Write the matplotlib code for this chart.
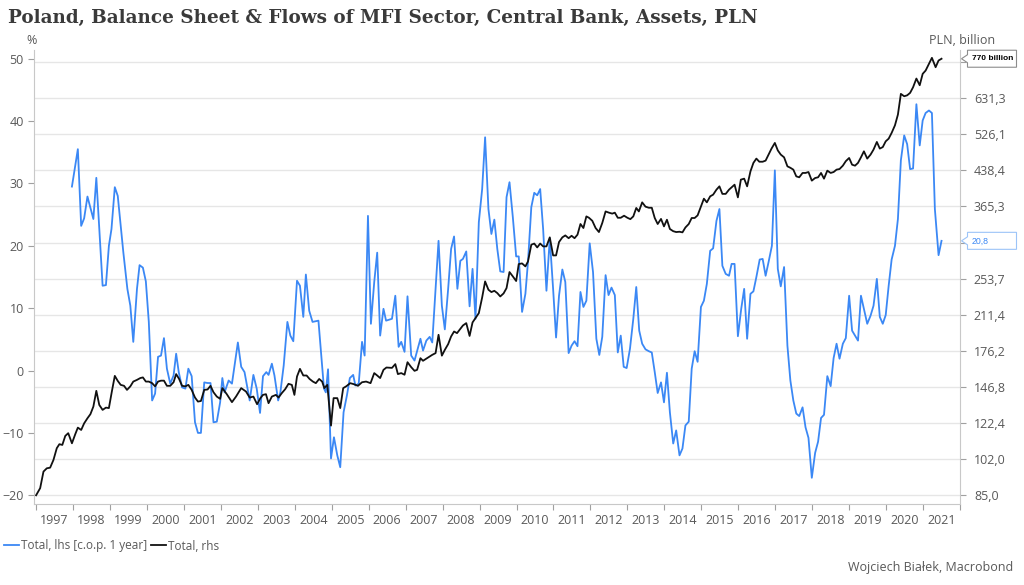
import matplotlib
matplotlib.use("Agg")
import math
import matplotlib.pyplot as plt
from matplotlib.ticker import FixedLocator, FixedFormatter, NullLocator
from matplotlib.patches import Polygon
from matplotlib.transforms import IdentityTransform, blended_transform_factory

plt.rcParams['font.family'] = ['Open Sans', 'DejaVu Sans']

title = "Poland, Balance Sheet & Flows of MFI Sector, Central Bank, Assets, PLN"
blue_label = "Total, lhs [c.o.p. 1 year]"
black_label = "Total, rhs"
source_text = "Wojciech Białek, Macrobond"
left_unit = "%"
right_unit = "PLN, billion"

years = list(range(1997, 2022))
left_ticks = [-20, -10, 0, 10, 20, 30, 40, 50]
right_ticks = [85.0, 102.0, 122.4, 146.8, 176.2, 211.4, 253.7, 304.4, 365.3, 438.4, 526.1, 631.3, 757.6]
right_labels = ["85,0", "102,0", "122,4", "146,8", "176,2", "211,4", "253,7", "", "365,3", "438,4", "526,1", "631,3", ""]

# Total, lhs [c.o.p. 1 year]  (%)
blue_t = [1997.97,
          1998.13, 1998.22, 1998.30, 1998.39, 1998.55, 1998.63, 1998.80, 1998.89, 1998.97,
          1999.04, 1999.13, 1999.21, 1999.36, 1999.47, 1999.55, 1999.63, 1999.73, 1999.80, 1999.89, 1999.97,
          2000.05, 2000.14, 2000.22, 2000.30, 2000.38, 2000.46, 2000.54, 2000.63, 2000.72, 2000.79, 2000.86, 2000.95,
          2001.04, 2001.12, 2001.21, 2001.30, 2001.38, 2001.46, 2001.55, 2001.64, 2001.72, 2001.80, 2001.89, 2001.98,
          2002.04, 2002.10, 2002.21, 2002.30, 2002.46, 2002.55, 2002.64, 2002.78, 2002.88, 2002.97,
          2003.06, 2003.14, 2003.23, 2003.29, 2003.38, 2003.45, 2003.55, 2003.61, 2003.70, 2003.80, 2003.88, 2003.96,
          2004.06, 2004.14, 2004.23, 2004.30, 2004.39, 2004.48, 2004.64, 2004.79, 2004.84, 2004.90, 2004.98,
          2005.06, 2005.15, 2005.23, 2005.32, 2005.41, 2005.49, 2005.58, 2005.64, 2005.73, 2005.82, 2005.89, 2005.98,
          2006.06, 2006.15, 2006.23, 2006.31, 2006.40, 2006.47, 2006.63, 2006.72, 2006.81, 2006.88, 2006.97,
          2007.05, 2007.15, 2007.24, 2007.40, 2007.47, 2007.56, 2007.65, 2007.72, 2007.81, 2007.89, 2007.98,
          2008.06, 2008.15, 2008.23, 2008.31, 2008.40, 2008.48, 2008.55, 2008.64, 2008.73, 2008.81, 2008.89, 2008.98,
          2009.07, 2009.15, 2009.24, 2009.32, 2009.40, 2009.48, 2009.56, 2009.65, 2009.73, 2009.81, 2009.90, 2009.99,
          2010.06, 2010.15, 2010.24, 2010.31, 2010.40, 2010.48, 2010.56, 2010.64, 2010.72, 2010.81, 2010.90, 2010.99,
          2011.07, 2011.15, 2011.24, 2011.32, 2011.41, 2011.49, 2011.57, 2011.65, 2011.73, 2011.81, 2011.89, 2011.98,
          2012.07, 2012.16, 2012.24, 2012.32, 2012.41, 2012.49, 2012.57, 2012.66, 2012.74, 2012.82, 2012.90, 2012.98,
          2013.07, 2013.16, 2013.24, 2013.32, 2013.40, 2013.49, 2013.58, 2013.66, 2013.74, 2013.82, 2013.91, 2013.99,
          2014.07, 2014.15, 2014.24, 2014.32, 2014.41, 2014.49, 2014.57, 2014.66, 2014.74, 2014.82, 2014.90, 2014.99,
          2015.07, 2015.15, 2015.24, 2015.32, 2015.41, 2015.49, 2015.57, 2015.66, 2015.75, 2015.82, 2015.90, 2015.99,
          2016.08, 2016.16, 2016.24, 2016.33, 2016.41, 2016.49, 2016.58, 2016.66, 2016.74, 2016.82, 2016.91, 2016.99,
          2017.07, 2017.15, 2017.24, 2017.33, 2017.41, 2017.49, 2017.57, 2017.65, 2017.74, 2017.82, 2017.90, 2017.99,
          2018.08, 2018.16, 2018.24, 2018.32, 2018.41, 2018.50, 2018.58, 2018.66, 2018.74, 2018.83, 2018.91,
          2019.00, 2019.08, 2019.16, 2019.24, 2019.32, 2019.40, 2019.49, 2019.58, 2019.66, 2019.75, 2019.83, 2019.91, 2019.99,
          2020.07, 2020.15, 2020.24, 2020.32, 2020.40, 2020.49, 2020.57, 2020.65, 2020.73, 2020.82, 2020.91, 2020.99,
          2021.07, 2021.16, 2021.24, 2021.32, 2021.42, 2021.50]
blue_v = [29.5,
          35.5, 23.2, 24.4, 27.9, 24.3, 30.9, 13.6, 13.7, 20.0,
          22.7, 29.4, 28.0, 19.0, 13.1, 10.4, 4.6, 13.1, 16.9, 16.5, 14.3,
          7.8, -4.8, -3.7, 2.2, 2.4, 5.2, 0.3, -2.1, -0.8, 2.7, -0.25, -2.7,
          -2.9, 0.3, -0.9, -8.3, -10.0, -10.0, -1.9, -2.0, -2.0, -8.3, -8.2, -5.1,
          -1.2, -3.5, -1.6, -2.1, 4.5, 0.6, -0.25, -4.8, -0.7, -2.9,
          -6.8, -0.9, -0.25, -0.7, 1.1, -0.8, -4.8, -3.5, 0.8, 7.8, 5.6, 4.7,
          14.4, 13.6, 8.6, 15.4, 9.6, 7.8, 8.0, -2.9, -3.5, 0.2, -14.1,
          -10.7, -13.6, -15.5, -6.7, -4.0, -1.2, -0.7, -2.4, -2.1, 4.6, 2.4, 24.8,
          7.5, 14.2, 18.9, 5.6, 9.9, 8.0, 8.3, 12.0, 3.8, 4.6, 3.0,
          11.9, 2.4, 1.6, 5.1, 3.2, 4.8, 5.4, 4.5, 13.1, 20.8, 10.4,
          6.6, 13.1, 19.5, 21.5, 13.1, 17.6, 17.9, 19.1, 10.3, 16.3, 8.3, 23.8,
          29.1, 37.4, 25.9, 21.9, 24.2, 19.5, 15.9, 15.8, 27.8, 30.2, 24.6, 18.3,
          18.3, 9.4, 12.3, 17.4, 26.2, 28.5, 28.1, 29.1, 22.7, 12.8, 21.2, 13.1,
          5.3, 12.0, 16.2, 14.2, 2.8, 4.0, 4.7, 3.9, 12.6, 10.2, 11.2, 20.4,
          15.8, 5.1, 2.5, 5.4, 15.3, 12.1, 13.3, 12.1, 2.9, 5.6, 0.6, 0.4,
          3.5, 8.3, 13.4, 6.4, 4.3, 3.4, 3.1, 2.9, -0.25, -3.6, -1.9, -5.1,
          -0.35, -6.7, -11.7, -9.6, -13.6, -12.5, -8.8, -8.2, 0.3, 3.1, 1.4, 10.2,
          11.2, 13.9, 19.2, 19.6, 24.0, 25.9, 16.8, 15.5, 15.2, 17.1, 17.1, 5.5,
          9.9, 13.1, 5.1, 12.3, 12.7, 15.0, 17.8, 17.9, 15.2, 17.4, 20.0, 32.1,
          16.3, 13.5, 16.6, 4.0, -1.6, -4.8, -6.9, -7.3, -5.9, -9.1, -10.8, -17.2,
          -13.2, -11.4, -7.6, -7.1, -0.9, -2.5, 2.0, 4.3, 1.9, 4.3, 5.2,
          12.0, 6.4, 5.6, 4.8, 12.0, 9.9, 7.5, 8.8, 10.4, 14.7, 8.6, 7.5, 8.9,
          13.6, 17.8, 20.0, 24.3, 33.7, 37.7, 36.3, 32.3, 32.4, 42.7, 36.1, 40.1,
          41.3, 41.7, 41.3, 25.9, 18.5, 20.8]

# Total, rhs  (PLN billion)
black_t = [1997.00, 1997.11, 1997.20, 1997.29, 1997.38, 1997.47, 1997.56, 1997.63, 1997.71, 1997.79, 1997.87, 1997.97,
           1998.06, 1998.13, 1998.22, 1998.30, 1998.39, 1998.47, 1998.55, 1998.63, 1998.71, 1998.80, 1998.89, 1998.97,
           1999.05, 1999.13, 1999.21, 1999.29, 1999.38, 1999.46, 1999.55, 1999.63, 1999.73, 1999.82, 1999.89, 1999.97,
           2000.05, 2000.14, 2000.22, 2000.30, 2000.38, 2000.46, 2000.54, 2000.63, 2000.72, 2000.79, 2000.87, 2000.95,
           2001.04, 2001.12, 2001.21, 2001.30, 2001.38, 2001.46, 2001.55, 2001.64, 2001.72, 2001.80, 2001.89, 2001.98,
           2002.04, 2002.16, 2002.30, 2002.41, 2002.55, 2002.68, 2002.78, 2002.88, 2002.98,
           2003.07, 2003.14, 2003.22, 2003.29, 2003.38, 2003.49, 2003.56, 2003.65, 2003.74, 2003.83, 2003.92, 2003.99,
           2004.06, 2004.14, 2004.23, 2004.32, 2004.40, 2004.49, 2004.57, 2004.66, 2004.74, 2004.80, 2004.88, 2004.98,
           2005.05, 2005.15, 2005.23, 2005.31, 2005.39, 2005.50, 2005.59, 2005.71, 2005.82, 2005.93,
           2006.05, 2006.15, 2006.23, 2006.31, 2006.40, 2006.48, 2006.63, 2006.72, 2006.79, 2006.88, 2006.97,
           2007.05, 2007.15, 2007.24, 2007.31, 2007.40, 2007.47, 2007.58, 2007.72, 2007.81, 2007.89, 2007.98,
           2008.06, 2008.15, 2008.23, 2008.31, 2008.39, 2008.48, 2008.55, 2008.64, 2008.73, 2008.81, 2008.89, 2008.98,
           2009.07, 2009.15, 2009.24, 2009.32, 2009.40, 2009.48, 2009.56, 2009.65, 2009.73, 2009.81, 2009.90, 2009.99,
           2010.06, 2010.15, 2010.24, 2010.31, 2010.40, 2010.48, 2010.56, 2010.64, 2010.72, 2010.81, 2010.90, 2010.99,
           2011.07, 2011.15, 2011.24, 2011.32, 2011.41, 2011.49, 2011.57, 2011.65, 2011.73, 2011.81, 2011.89, 2011.96,
           2012.05, 2012.14, 2012.23, 2012.32, 2012.41, 2012.50, 2012.59, 2012.66, 2012.74, 2012.82, 2012.91,
           2013.00, 2013.08, 2013.16, 2013.24, 2013.31, 2013.40, 2013.49, 2013.58, 2013.66, 2013.74, 2013.82, 2013.91, 2013.99,
           2014.07, 2014.15, 2014.24, 2014.32, 2014.41, 2014.49, 2014.57, 2014.66, 2014.74, 2014.82, 2014.90, 2014.99,
           2015.07, 2015.15, 2015.24, 2015.32, 2015.41, 2015.49, 2015.57, 2015.66, 2015.75, 2015.82, 2015.90, 2015.99,
           2016.07, 2016.16, 2016.24, 2016.33, 2016.41, 2016.49, 2016.57, 2016.66, 2016.74, 2016.82, 2016.90, 2016.99,
           2017.07, 2017.15, 2017.24, 2017.33, 2017.41, 2017.49, 2017.57, 2017.65, 2017.74, 2017.82, 2017.90, 2017.99,
           2018.08, 2018.16, 2018.24, 2018.32, 2018.41, 2018.50, 2018.58, 2018.66, 2018.74, 2018.83, 2018.91,
           2019.00, 2019.08, 2019.16, 2019.24, 2019.32, 2019.40, 2019.49, 2019.58, 2019.66, 2019.75, 2019.83, 2019.91, 2019.99,
           2020.07, 2020.15, 2020.24, 2020.32, 2020.40, 2020.49, 2020.57, 2020.65, 2020.73, 2020.82, 2020.91, 2020.99,
           2021.07, 2021.16, 2021.24, 2021.34, 2021.42, 2021.50]
black_v = [85.0, 88.1, 95.8, 97.4, 97.7, 101.6, 107.8, 110.0, 109.6, 114.7, 116.3, 110.5,
           115.7, 119.6, 118.2, 122.2, 125.4, 128.0, 133.0, 144.0, 134.1, 130.8, 132.3, 132.0,
           143.5, 155.3, 151.4, 148.4, 147.7, 144.7, 147.3, 150.9, 152.2, 153.6, 154.1, 150.9,
           150.9, 149.7, 147.3, 150.9, 151.6, 151.6, 147.7, 147.7, 150.4, 156.7, 152.9, 147.7,
           147.3, 148.4, 144.7, 139.2, 136.4, 136.8, 144.7, 145.0, 147.7, 143.0, 139.9, 138.3,
           146.0, 141.6, 136.0, 139.9, 146.0, 143.5, 139.2, 139.9, 134.6,
           138.8, 141.1, 141.6, 135.3, 139.9, 141.1, 139.2, 142.4, 145.2, 149.2, 148.4, 141.1,
           154.8, 160.9, 155.6, 155.6, 152.9, 150.9, 149.7, 152.9, 150.9, 146.0, 148.4, 120.8,
           138.8, 138.8, 132.0, 146.0, 147.3, 149.7, 149.0, 147.7, 150.4, 150.9,
           149.7, 157.5, 155.6, 153.6, 160.1, 162.0, 161.7, 164.8, 156.7, 157.5, 156.2,
           166.4, 162.3, 159.3, 160.1, 169.8, 167.6, 169.8, 172.7, 174.2, 191.1, 172.0,
           177.1, 182.3, 189.5, 194.3, 192.7, 197.0, 200.3, 202.7, 190.0, 203.4, 207.9, 213.2,
           230.7, 250.2, 239.9, 237.1, 238.6, 235.9, 231.9, 235.5, 241.9, 262.3, 256.6, 250.7,
           273.1, 274.0, 269.9, 276.7, 301.1, 302.9, 297.0, 302.9, 298.6, 298.6, 312.5, 285.3,
           285.3, 305.2, 312.5, 315.6, 311.2, 315.0, 311.2, 316.8, 334.3, 327.6, 347.4, 345.0,
           339.8, 327.6, 321.0, 336.0, 356.2, 354.0, 352.3, 354.0, 345.0, 345.0, 348.6,
           345.0, 342.6, 347.4, 362.5, 356.2, 372.9, 364.9, 362.9, 362.9, 344.6, 334.3, 343.0, 330.3,
           341.6, 326.0, 322.4, 321.0, 321.5, 320.5, 328.5, 334.3, 344.6, 344.6, 349.2, 364.9,
           379.9, 372.9, 384.4, 387.7, 397.6, 404.3, 389.2, 389.2, 397.6, 402.2, 407.7, 382.4,
           418.2, 420.3, 404.3, 436.1, 455.1, 465.1, 457.8, 457.8, 460.4, 474.6, 489.2, 503.4,
           484.7, 474.6, 468.1, 447.3, 444.0, 439.9, 425.2, 423.2, 432.6, 432.6, 434.6, 416.1,
           421.7, 423.2, 432.6, 420.3, 437.7, 432.6, 434.6, 439.9, 441.2, 448.8, 459.1,
           466.6, 451.0, 448.8, 455.1, 468.1, 482.5, 465.1, 474.6, 486.7, 505.9, 489.2, 492.9, 507.5,
           514.4, 529.5, 550.2, 580.8, 644.8, 637.1, 640.1, 648.1, 666.7, 696.7, 673.5, 713.4,
           725.4, 750.4, 773.5, 737.7, 763.1, 770.0]

BLUE = "#3b88f5"
BLACK = "#111111"
TXT = "#595959"
SPINE = "#c8c8c8"
GRID = "#e6e6e6"

W, H = 1024, 585
fig = plt.figure(figsize=(W / 100, H / 100), dpi=100)
ax = fig.add_axes([33.5 / W, 1 - 504 / H, (960 - 33.5) / W, (504 - 50) / H])
ax2 = ax.twinx()

# left axis range and the matching log range on the right
ylim_left = (-21.4, 51.4)
steps = math.log(770.0 / 85.0) / math.log(1.2)
ylim_right = tuple(85.0 * 1.2 ** ((v + 20) / 70.0 * steps) for v in ylim_left)

ax.set_xlim(1996.93, 2022.0)
ax.set_ylim(*ylim_left)
ax2.set_yscale("log")
ax2.set_ylim(*ylim_right)

# gridlines at the right-axis ticks, drawn beneath the lines
gtrans = blended_transform_factory(ax.transAxes, ax2.transData)
for v in right_ticks:
    ax.plot([0, 1], [v, v], transform=gtrans, color=GRID, lw=1.0, zorder=0.5, scalex=False, scaley=False)

l1, = ax.plot(blue_t, blue_v, color=BLUE, lw=1.3, zorder=3, label=blue_label)
l2, = ax2.plot(black_t, black_v, color=BLACK, lw=1.3, zorder=3, label=black_label)

ax.set_xlim(1996.93, 2022.0)
ax.set_ylim(*ylim_left)
ax2.set_ylim(*ylim_right)

# spines
for a in (ax, ax2):
    a.spines["top"].set_visible(False)
ax.spines["right"].set_visible(False)
ax2.spines["left"].set_visible(False)
ax2.spines["bottom"].set_visible(False)
ax.spines["left"].set_color(SPINE)
ax.spines["bottom"].set_color(SPINE)
ax2.spines["right"].set_color(SPINE)

# x axis: year boundaries as ticks, labels centred in each year
ax.xaxis.set_major_locator(FixedLocator(list(range(1997, 2023))))
ax.xaxis.set_major_formatter(FixedFormatter([""] * 26))
ax.xaxis.set_minor_locator(FixedLocator([y + 0.5 for y in years]))
ax.xaxis.set_minor_formatter(FixedFormatter([str(y) for y in years]))
ax.tick_params(axis="x", which="major", length=4, width=0.8, color="#a0a0a0", direction="out")
ax.tick_params(axis="x", which="minor", length=0, pad=7, labelsize=9, labelcolor=TXT)

# left axis
ax.yaxis.set_major_locator(FixedLocator(left_ticks))
ax.yaxis.set_minor_locator(NullLocator())
ax.tick_params(axis="y", which="major", length=4, width=0.8, color="#a0a0a0", pad=3, labelsize=9, labelcolor=TXT)

# right axis
ax2.yaxis.set_major_locator(FixedLocator(right_ticks))
ax2.yaxis.set_major_formatter(FixedFormatter(right_labels))
ax2.yaxis.set_minor_locator(NullLocator())
ax2.tick_params(axis="y", which="major", length=4, width=0.8, color="#a0a0a0", pad=6, labelsize=9, labelcolor=TXT)

# texts
fig.text(8 / W, 1 - 18 / H, title, fontfamily="DejaVu Serif", fontweight="bold", fontsize=13.2,
         color="#3a3a3a", ha="left", va="center")
fig.text(32 / W, 1 - 40 / H, left_unit, fontsize=9, color=TXT, ha="center", va="center")
fig.text(962 / W, 1 - 40 / H, right_unit, fontsize=9, color=TXT, ha="center", va="center")
fig.text(1013 / W, 1 - 568 / H, source_text, fontsize=9, color=TXT, ha="right", va="center")

fig.legend(handles=[l1, l2], labels=[blue_label, black_label], loc="center left",
           bbox_to_anchor=(4 / W, 1 - 546 / H), ncol=2, frameon=False, fontsize=8.5,
           handlelength=1.3, handletextpad=0.15, columnspacing=0.3, borderaxespad=0,
           borderpad=0, labelcolor=TXT)


def callout(trans, val, text, tcolor, ecolor, weight, fsize):
    yd = trans.transform((0, val))[1]
    xr = ax.transAxes.transform((1, 0))[0]
    x0 = xr + 7.5
    x1 = x0 + 49
    h = 8.5
    pts = [(x0, yd + h), (x1, yd + h), (x1, yd - h), (x0, yd - h), (x0, yd - 4), (x0 - 6, yd), (x0, yd + 4)]
    fig.add_artist(Polygon(pts, closed=True, transform=IdentityTransform(), facecolor="white",
                           edgecolor=ecolor, lw=0.8, zorder=10))
    fig.text(x0 + 4, yd, text, transform=IdentityTransform(), fontsize=fsize, color=tcolor,
             fontweight=weight, ha="left", va="center", zorder=11,
             fontfamily=["Liberation Sans", "DejaVu Sans"])


callout(ax2.transData, black_v[-1], f"{black_v[-1]:.0f} billion", "#000000", "#8c8c8c", "bold", 6.0)
callout(ax.transData, blue_v[-1], f"{blue_v[-1]:.1f}".replace(".", ","), BLUE, "#9cc4f8", "normal", 6.3)

fig.savefig("out.png", dpi=100)
